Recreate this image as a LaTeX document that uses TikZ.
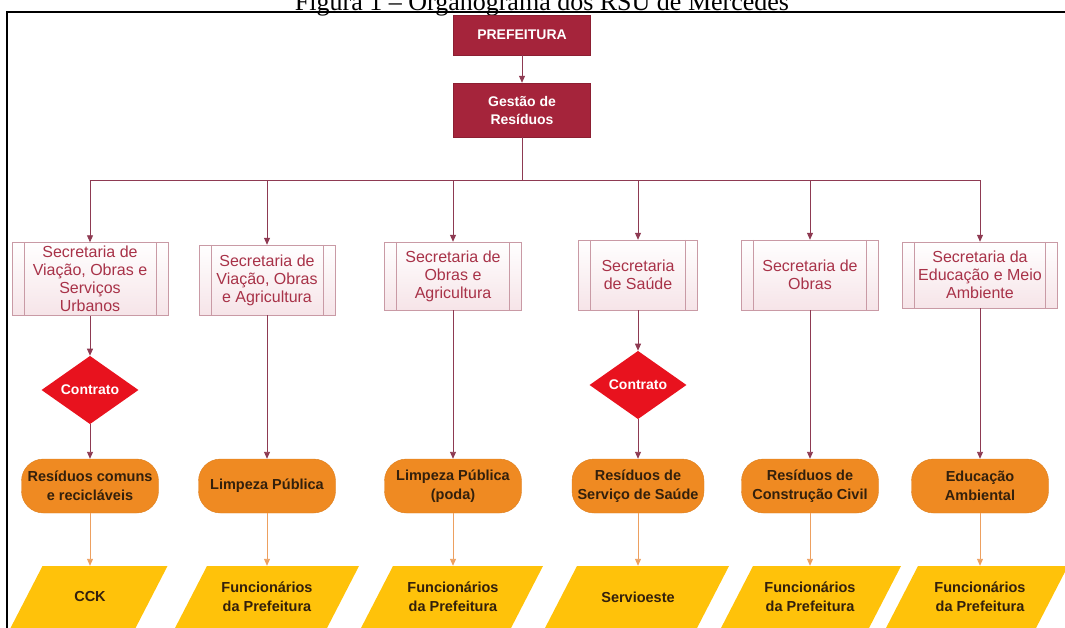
\documentclass[tikz,border=0pt]{standalone}
\usepackage{fontspec}
\setmainfont{Liberation Sans}
\newfontfamily\titlefont{Liberation Serif}
\usepackage{xcolor}
\usepackage{tikz}
\usetikzlibrary{shapes.geometric, arrows.meta, positioning}
\definecolor{vinho}{HTML}{A5243B}
\definecolor{vinholinha}{HTML}{8E3A52}
\definecolor{rosaborda}{HTML}{C99AA5}
\definecolor{rosafundo}{HTML}{F6E4E8}
\definecolor{textorosa}{HTML}{A83248}
\definecolor{vermelho}{HTML}{E8121E}
\definecolor{laranja}{HTML}{EF8A22}
\definecolor{laranjaseta}{HTML}{EDA060}
\definecolor{amarelo}{HTML}{FFC20A}
\definecolor{marrom}{HTML}{33200C}
\tikzset{
    topo/.style={rectangle, fill=vinho, draw=vinho!85!black, text=white, font=\bfseries\fontsize{14}{18}\selectfont, minimum width=137pt, align=center},
    secretaria/.style={rectangle, draw=rosaborda, top color=white, bottom color=rosafundo, text=textorosa, font=\fontsize{16}{18}\selectfont, align=center, minimum height=70pt, inner sep=0pt,
        path picture={
            \draw[rosaborda] ([xshift=12pt]path picture bounding box.north west) -- ([xshift=12pt]path picture bounding box.south west);
            \draw[rosaborda] ([xshift=-12pt]path picture bounding box.north east) -- ([xshift=-12pt]path picture bounding box.south east);
        }},
    contrato/.style={diamond, fill=vermelho, text=white, font=\bfseries\fontsize{14}{17}\selectfont, minimum width=97pt, minimum height=61pt, inner sep=0pt},
    residuo/.style={rectangle, rounded corners=22pt, fill=laranja, draw=laranja!92!black, text=marrom, font=\bfseries\fontsize{14.5}{19}\selectfont, minimum width=137pt, minimum height=54pt, align=center, inner sep=0pt},
    executor/.style={rectangle, text=marrom, font=\bfseries\fontsize{14.5}{19}\selectfont, minimum width=120pt, minimum height=62pt, align=center, inner sep=0pt},
    arrow/.style={-{Triangle[length=7pt, width=6pt]}, vinholinha, line width=0.9pt},
    arrowlaranja/.style={-{Triangle[length=7pt, width=6pt]}, laranjaseta, line width=0.9pt}
}
\begin{document}
\begin{tikzpicture}[x=1pt, y=-1pt]
            \useasboundingbox (0,0) rectangle (1065,628);
            \draw[line width=1.6pt] (7,650) -- (7,12) -- (1085,12);
            \node (titulo) [anchor=base, font=\titlefont\fontsize{26}{30}\selectfont] at (542,11) {Figura 1 – Organograma dos RSU de Mercedes};

            \node (pref) [topo, minimum height=40pt] at (522,35) {PREFEITURA};
            \node (gestao) [topo, minimum height=54pt] at (522,110) {Gestão de\\Resíduos};
            \coordinate (barra) at (522,180);

            \node (sec1) [secretaria, minimum width=156pt, minimum height=73pt] at (90,279) {Secretaria de\\Viação, Obras e\\Serviços\\Urbanos};
            \node (sec2) [secretaria, minimum width=136pt] at (267,280) {Secretaria de\\Viação, Obras\\e Agricultura};
            \node (sec3) [secretaria, minimum width=137pt, minimum height=68pt] at (453,276) {Secretaria de\\Obras e\\Agricultura};
            \node (sec4) [secretaria, minimum width=119pt] at (638,275) {Secretaria\\de Saúde};
            \node (sec5) [secretaria, minimum width=137pt] at (810,275) {Secretaria de\\Obras};
            \node (sec6) [secretaria, minimum width=155pt, minimum height=66pt] at (980,275) {Secretaria da\\Educação e Meio\\Ambiente};

            \node (contr1) [contrato] at (90,390) {Contrato};
            \node (contr4) [contrato] at (638,385) {Contrato};

            \node (res1) [residuo] at (90,486) {Resíduos comuns\\e recicláveis};
            \node (res2) [residuo] at (267,486) {Limpeza Pública};
            \node (res3) [residuo] at (453,486) {Limpeza Pública\\(poda)};
            \node (res4) [residuo, minimum width=132pt] at (638,486) {Resíduos de\\Serviço de Saúde};
            \node (res5) [residuo] at (810,486) {Resíduos de\\Construção Civil};
            \node (res6) [residuo] at (980,486) {Educação\\Ambiental};

            \foreach \x/\w in {89/125, 267/152, 452/150, 637/152, 811/148, 977/150}
                \fill[amarelo] ({\x-\w/2+16},566) -- ++(\w,0) -- ++(-33,64) -- ++(-\w,0) -- cycle;

            \node (exe1) [executor] at (90,597) {CCK};
            \node (exe2) [executor] at (267,597) {Funcionários\\da Prefeitura};
            \node (exe3) [executor] at (453,597) {Funcionários\\da Prefeitura};
            \node (exe4) [executor] at (638,597) {Servioeste};
            \node (exe5) [executor] at (810,597) {Funcionários\\da Prefeitura};
            \node (exe6) [executor] at (980,597) {Funcionários\\da Prefeitura};

            \draw[arrow] (pref) -- (gestao);
            \draw[vinholinha, line width=0.9pt] (gestao) -- (barra);
            \foreach \i in {1,...,6}
                \draw[arrow] (barra) -| (sec\i);
            \draw[arrow] (sec1) -- (contr1);
            \draw[arrow] (contr1) -- (res1);
            \draw[arrow] (sec2) -- (res2);
            \draw[arrow] (sec3) -- (res3);
            \draw[arrow] (sec4) -- (contr4);
            \draw[arrow] (contr4) -- (res4);
            \draw[arrow] (sec5) -- (res5);
            \draw[arrow] (sec6) -- (res6);
            \foreach \i in {1,...,6}
                \draw[arrowlaranja] (res\i) -- (exe\i);
        \end{tikzpicture}
\end{document}
